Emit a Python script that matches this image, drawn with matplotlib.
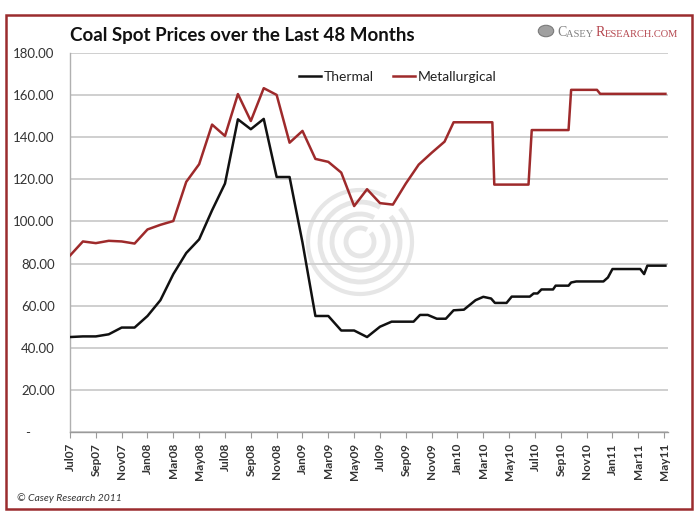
import matplotlib
matplotlib.use("Agg")
import matplotlib.pyplot as plt
from matplotlib.patches import Rectangle, Arc, Circle
from matplotlib.ticker import FixedLocator, FuncFormatter

# ---- data (x = months since Jul 2007) ----
tick_labels = ["Jul07", "Sep07", "Nov07", "Jan08", "Mar08", "May08", "Jul08", "Sep08",
               "Nov08", "Jan09", "Mar09", "May09", "Jul09", "Sep09", "Nov09", "Jan10",
               "Mar10", "May10", "Jul10", "Sep10", "Nov10", "Jan11", "Mar11", "May11"]

thermal_x = [0, 1, 2, 3, 4, 5, 6, 7, 8, 9, 10, 11, 12, 13, 14, 15, 16, 17, 18, 19, 20, 21,
             22, 23, 24, 24.9, 26.6, 27.1, 27.7, 28.4, 29.1, 29.7, 30.5, 31.4, 32.0, 32.6,
             32.9, 33.8, 34.2, 35.6, 35.9, 36.2, 36.5, 37.4, 37.6, 38.6, 38.8, 39.2, 41.3,
             41.65, 42.0, 44.15, 44.45, 44.7, 46.1]
thermal_y = [45.1, 45.4, 45.4, 46.4, 49.6, 49.6, 55.1, 62.6, 75.0, 85.0, 91.5, 105.3, 118.0,
             148.5, 143.8, 148.7, 121.1, 121.1, 90.0, 55.1, 55.1, 48.2, 48.2, 45.1, 50.0,
             52.4, 52.4, 55.6, 55.6, 53.8, 53.8, 57.8, 58.1, 62.6, 64.2, 63.4, 61.3, 61.3,
             64.3, 64.3, 65.8, 65.8, 67.7, 67.7, 69.5, 69.5, 71.0, 71.5, 71.5, 73.4, 77.4,
             77.4, 75.0, 79.0, 79.0]

metal_x = [0, 1, 2, 3, 4, 5, 6, 7, 8, 9, 10, 11, 12, 13, 14, 15, 16, 17, 18, 19, 20, 21,
           22, 23, 24, 25, 26, 27, 28, 29, 29.7, 32.7, 32.85, 35.5, 35.75, 38.6, 38.8,
           40.8, 41.05, 46.1]
metal_y = [83.8, 90.5, 89.7, 90.8, 90.5, 89.5, 96.2, 98.4, 100.2, 118.8, 127.2, 146.0,
           140.6, 160.5, 147.7, 163.3, 160.1, 137.4, 143.0, 129.7, 128.3, 123.2, 107.3,
           115.3, 108.7, 108.0, 118.0, 127.0, 132.6, 137.9, 147.1, 147.1, 117.5, 117.5,
           143.4, 143.4, 162.5, 162.5, 160.6, 160.6]

series_names = ["Thermal", "Metallurgical"]
yticks = [0, 20, 40, 60, 80, 100, 120, 140, 160, 180]

# ---- figure ----
fig = plt.figure(figsize=(7, 5.2), dpi=100)
fig.patch.set_facecolor("white")
plt.rcParams["font.family"] = ["Lato", "DejaVu Sans"]

# outer dark red frame
fig.add_artist(Rectangle((6 / 700, 1 - 509 / 520), 686 / 700, 494 / 520,
                         transform=fig.transFigure, fill=False,
                         edgecolor="#9b2c2e", linewidth=1.8))

ax = fig.add_axes([70 / 700, 1 - 432 / 520, 598 / 700, 379 / 520])

# watermark rings
ring_c = (3.60, (520 - 242) / 100)
for r, lw in [(0.14, 3.5), (0.28, 3.5), (0.40, 3.5), (0.52, 3.0)]:
    ax.add_artist(Arc(ring_c, 2 * r, 2 * r, theta1=60, theta2=400,
                      transform=fig.dpi_scale_trans, edgecolor="#e6e6e6",
                      linewidth=lw, clip_on=False, zorder=0.5))

l1, = ax.plot(thermal_x, thermal_y, color="#111111", linewidth=1.8, zorder=3,
              label=series_names[0])
l2, = ax.plot(metal_x, metal_y, color="#9e2a2b", linewidth=1.8, zorder=3,
              label=series_names[1])

ax.set_xlim(0, 46.3)
ax.set_ylim(0, 180)

ax.yaxis.set_major_locator(FixedLocator(yticks))
ax.yaxis.set_major_formatter(FuncFormatter(lambda v, p: "-       " if v == 0 else f"{v:.2f}"))
ax.grid(axis="y", color="#cfcfcf", linewidth=1.4, zorder=1)
ax.set_axisbelow(True)

ax.set_xticks([2 * i for i in range(len(tick_labels))])
ax.set_xticklabels(tick_labels, rotation=90, fontweight="bold", fontsize=8.5,
                   color="#333333")
ax.tick_params(axis="x", which="both", direction="out", length=4, color="#9a9a9a",
               pad=4)
ax.tick_params(axis="y", length=0, pad=11, labelsize=9.5, labelcolor="#333333")

for s in ["top", "right"]:
    ax.spines[s].set_visible(False)
ax.spines["left"].set_color("#b0b0b0")
ax.spines["bottom"].set_color("#9a9a9a")
ax.spines["left"].set_linewidth(1.0)
ax.spines["bottom"].set_linewidth(1.0)

leg = ax.legend(handles=[l1, l2], loc="upper center", bbox_to_anchor=(0.548, 0.985),
                ncol=2, frameon=False, fontsize=10, handlelength=1.6,
                handletextpad=0.2, columnspacing=1.4)
for t in leg.get_texts():
    t.set_color("#222222")

# title
fig.text(70 / 700, 1 - 36 / 520, "Coal Spot Prices over the Last 48 Months",
         fontsize=13.5, fontweight="bold", color="#111111", va="center", ha="left")

# logo (swirl + small caps imitation)
fig.add_artist(Circle((546 / 700, 1 - 31 / 520), 0.011, transform=fig.transFigure,
                      facecolor="#a0a0a0", edgecolor="#7a7a7a", linewidth=0.8))
serif = ["Liberation Serif", "DejaVu Serif"]
t1 = fig.text(557 / 700, 1 - 36 / 520, "C", fontsize=10, family=serif,
              color="#808080", va="baseline")
t2 = ax.annotate("ASEY ", xy=(1, 0), xycoords=t1, fontsize=7.5, family=serif,
                 color="#808080", va="bottom", annotation_clip=False)
t3 = ax.annotate("R", xy=(1, 0), xycoords=t2, fontsize=10, family=serif,
                 color="#b5474f", va="bottom", annotation_clip=False)
t4 = ax.annotate("ESEARCH.COM", xy=(1, 0), xycoords=t3, fontsize=7.5,
                 family=serif, color="#b5474f", va="bottom",
                 annotation_clip=False)

# copyright
fig.text(17 / 700, 1 - 498 / 520, "© Casey Research 2011", fontsize=7.5,
         style="italic", color="#333333", va="center", ha="left")

fig.savefig("out.png", dpi=100, facecolor="white")
